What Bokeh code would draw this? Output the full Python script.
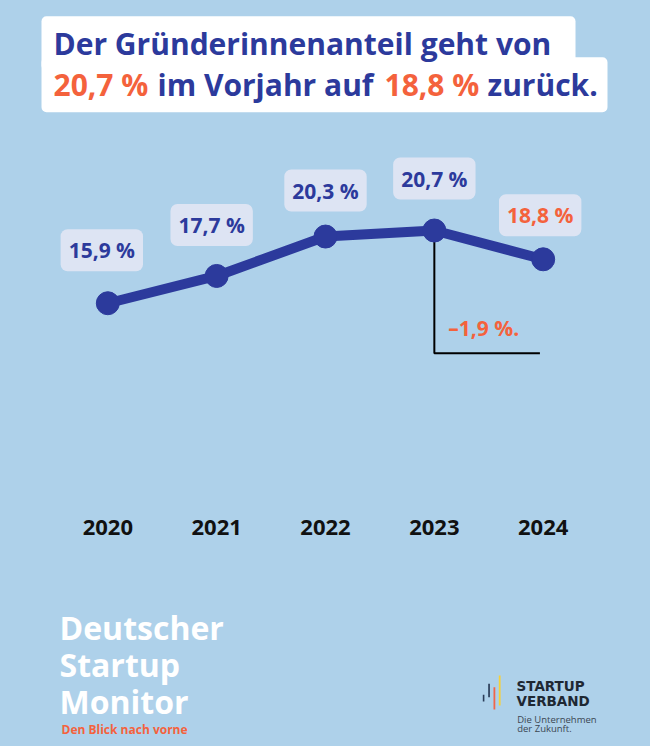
from bokeh.plotting import figure
from bokeh.models import Range1d, ColumnDataSource, FixedTicker, BoxAnnotation
from bokeh.layouts import column
from bokeh.embed import file_html
from bokeh.resources import INLINE
from bokeh.core.properties import value

# ---------------- data ----------------
years = [2020, 2021, 2022, 2023, 2024]
year_labels = ["2020", "2021", "2022", "2023", "2024"]
shares = [15.9, 17.7, 20.3, 20.7, 18.8]

title_line1 = "Der Gründerinnenanteil geht von"
title_mid = "im Vorjahr auf"
title_end = "zurück."
brand_lines = ["Deutscher", "Startup", "Monitor"]
brand_claim = "Den Blick nach vorne"
verband_lines = ["STARTUP", "VERBAND"]
verband_claim = ["Die Unternehmen", "der Zukunft."]

# ---------------- style ----------------
BG = "#AED1EA"
NAVY = "#2C3A9C"
ORANGE = "#F4623C"
BOX = "#DDE4F3"
FONT = "Open Sans"
W = 650
BGSTYLE = {"background-color": BG}


def de(v):
    return f"{v:.1f}".replace(".", ",") + " %"


def base_fig(height, x_range, y_range, **kw):
    p = figure(width=W, height=height, x_range=x_range, y_range=y_range,
               output_backend="svg", toolbar_location=None,
               background_fill_color=BG, border_fill_color=BG,
               outline_line_color=None, styles=BGSTYLE, **kw)
    p.grid.visible = False
    return p


# ---------------- header ----------------
head = base_fig(125, Range1d(0, 650), Range1d(125, 0),
                x_axis_location=None, y_axis_location=None,
                min_border_left=0, min_border_right=0,
                min_border_top=0, min_border_bottom=0)
for l, r, t, b in [(41, 575, 15.7, 70), (41, 607, 56.7, 111.7)]:
    head.add_layout(BoxAnnotation(left=l, right=r, top=t, bottom=b,
                                  fill_color="white", fill_alpha=1,
                                  line_color=None, border_radius=5,
                                  level="underlay"))
head.text(x=[53], y=[42.5], text=[title_line1], text_font=value(FONT),
          text_font_style="bold", text_font_size="30px", text_color=NAVY,
          text_baseline="middle")
seg = ColumnDataSource(dict(
    x=[53, 157, 384, 487], y=[84] * 4,
    t=[de(shares[3]), title_mid, de(shares[4]), title_end],
    c=[ORANGE, NAVY, ORANGE, NAVY]))
head.text(x="x", y="y", text="t", text_color="c", source=seg,
          text_font=value(FONT), text_font_style="bold",
          text_font_size="30px", text_baseline="middle")

# ---------------- chart ----------------
chart = base_fig(435, Range1d(2019.014, 2024.986), Range1d(2.55, 27.63),
                 y_axis_location=None,
                 min_border_left=0, min_border_right=0,
                 min_border_top=0, min_border_bottom=55)
ax = chart.xaxis[0]
ax.ticker = FixedTicker(ticks=years)
ax.major_label_overrides = {y: s for y, s in zip(years, year_labels)}
ax.axis_line_color = None
ax.major_tick_line_color = None
ax.minor_tick_line_color = None
ax.major_label_text_font = FONT
ax.major_label_text_font_style = "bold"
ax.major_label_text_font_size = "22px"
ax.major_label_text_color = "#111111"
ax.major_label_standoff = 8

# bracket showing the drop 2023 -> 2024
floor = 12.6
chart.line(x=[years[3], years[3], years[4] - 0.03], y=[shares[3], floor, floor],
           line_color="black", line_width=2)
chart.text(x=[years[3]], y=[floor], text=["–" + de(shares[3] - shares[4]) + "."],
           x_offset=14, y_offset=-25, text_font=value(FONT),
           text_font_style="bold", text_font_size="21px",
           text_color=ORANGE, text_baseline="middle", text_align="left")

chart.line(years, shares, line_color=NAVY, line_width=10, line_join="round")
chart.scatter(years, shares, size=23, fill_color=NAVY, line_color=NAVY)

lab = ColumnDataSource(dict(
    x=years, y=shares, t=[de(v) for v in shares],
    c=[NAVY, NAVY, NAVY, NAVY, ORANGE],
    dx=[-6, -5, 0, 0, -3], dy=[-53, -51, -46, -52, -44]))
chart.text(x="x", y="y", text="t", text_color="c", source=lab,
           x_offset="dx", y_offset="dy",
           text_font=value(FONT), text_font_style="bold",
           text_font_size="21px", text_align="center", text_baseline="middle",
           background_fill_color=BOX, border_radius=7,
           padding=dict(left=8, right=8, top=7, bottom=7))

# ---------------- footer ----------------
foot = base_fig(186, Range1d(0, 650), Range1d(746, 560),
                x_axis_location=None, y_axis_location=None,
                min_border_left=0, min_border_right=0,
                min_border_top=0, min_border_bottom=0)
foot.text(x=[59] * 3, y=[627.3, 664, 700.5], text=brand_lines,
          text_font=value(FONT), text_font_style="bold",
          text_font_size="32px", text_color="white",
          text_baseline="middle")
foot.text(x=[61], y=[728.5], text=[brand_claim], text_font=value(FONT),
          text_font_style="bold", text_font_size="12px", text_color=ORANGE,
          text_baseline="middle")
foot.quad(left=[482.3, 487.7, 493, 498.3], right=[483.9, 489.4, 494.8, 500.1],
          top=[694.3, 683.3, 686.7, 675], bottom=[701, 696.7, 709, 705],
          fill_color=["#2A3C58", "#2A3C58", "#F0654A", "#F6D13A"], line_color=None)
foot.text(x=[516] * 2, y=[685, 700.5], text=verband_lines,
          text_font=value("DejaVu Sans"), text_font_style="bold",
          text_font_size="13.5px",
          text_color="#1E2833", text_baseline="middle")
foot.text(x=[516.7] * 2, y=[719, 728.3], text=verband_claim,
          text_font=value(FONT), text_font_size="9.5px",
          text_color="#3B4652", text_baseline="middle")

page = column(head, chart, foot, spacing=0, styles=BGSTYLE)
open("out.html", "w").write(file_html(page, INLINE))
